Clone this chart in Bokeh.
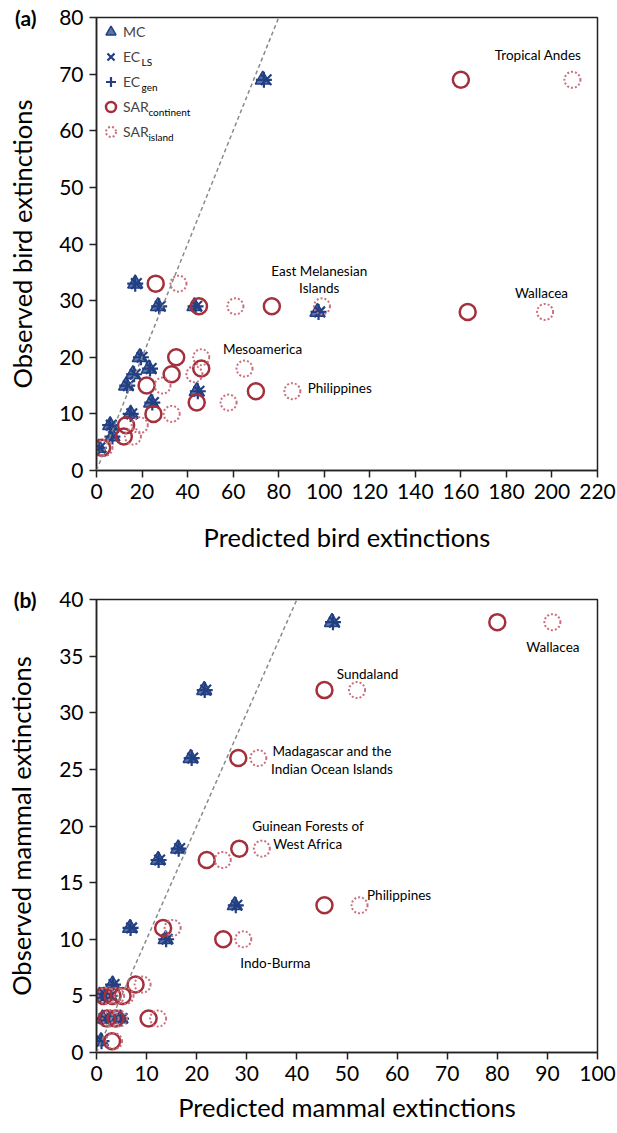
from bokeh.plotting import figure
from bokeh.layouts import column
from bokeh.models import (Range1d, FixedTicker, Slope, Label, Legend, LegendItem,
                          ColumnDataSource, LinearAxis)
from bokeh.embed import file_html
from bokeh.resources import INLINE

FONT = "Lato"

# ---------------- Panel (a): birds ----------------
bird_obs      = [69, 33, 29, 29, 28, 20, 18, 17, 15, 14, 12, 10, 8, 6, 4]
bird_mc       = [73, 17, 27, 43, 97, 19, 23, 16, 13, 44, 24, 15, 6, 7, 1]
bird_ec_ls    = [74.5, 17.5, 28, 44, 98, 20, 24, 17, 14, 45, 25, 15.5, 6.5, 7.5, 1.5]
bird_ec_gen   = [73.5, 17, 27.5, 43.5, 97.5, 19.5, 23.5, 16.5, 13.5, 44.5, 24.5, 15, 6, 7, 1]
bird_sar_cont = [160, 26, 45, 77, 163, 35, 46, 33, 22, 70, 44, 25, 13, 12, 2.5]
bird_sar_isl  = [209, 36, 61, 99, 197, 46, 65, 43, 29, 86, 58, 33, 19, 16, 3.5]

bird_x_ticks = [0, 20, 40, 60, 80, 100, 120, 140, 160, 180, 200, 220]
bird_y_ticks = [0, 10, 20, 30, 40, 50, 60, 70, 80]

bird_notes = [
    ("Tropical Andes", 193.9, 73.3),
    ("East Melanesian", 97.8, 35.3),
    ("Islands", 97.8, 32.3),
    ("Wallacea", 195.4, 31.3),
    ("Mesoamerica", 72.9, 21.4),
    ("Philippines", 106.8, 14.5),
]

# ---------------- Panel (b): mammals ----------------
mam_obs      = [38, 32, 26, 18, 17, 13, 11, 10, 6, 5, 5, 5, 3, 3, 3, 1]
mam_mc       = [47, 21.5, 18.8, 16.3, 12.3, 27.6, 6.7, 13.8, 3.2, 0.6, 1.5, 2.6, 1.2, 2.8, 4.8, 0.9]
mam_ec_ls    = [47.5, 21.8, 19.2, 16.6, 12.6, 28.0, 7.0, 14.1, 3.5, 0.9, 1.8, 2.9, 1.5, 3.1, 5.1, 1.1]
mam_ec_gen   = [47.2, 21.6, 19.0, 16.4, 12.4, 27.8, 6.8, 13.9, 3.3, 0.7, 1.6, 2.7, 1.3, 2.9, 4.9, 1.0]
mam_sar_cont = [80, 45.5, 28.3, 28.5, 22, 45.5, 13.3, 25.3, 7.8, 1.4, 3.2, 5.2, 2.1, 3.8, 10.4, 3.1]
mam_sar_isl  = [91, 52, 32.3, 33, 25.2, 52.5, 15.2, 29.3, 9.2, 2.0, 3.9, 5.8, 2.8, 4.5, 12.3, 3.5]

mam_x_ticks = [0, 10, 20, 30, 40, 50, 60, 70, 80, 90, 100]
mam_y_ticks = [0, 5, 10, 15, 20, 25, 30, 35, 40]

mam_notes = [
    ("Wallacea", 91.1, 35.8),
    ("Sundaland", 54.1, 33.4),
    ("Madagascar and the", 47.0, 26.6),
    ("Indian Ocean Islands", 47.0, 25.0),
    ("Guinean Forests of", 42.2, 20.0),
    ("West Africa", 42.2, 18.4),
    ("Philippines", 60.4, 13.9),
    ("Indo-Burma", 35.7, 7.9),
]

BLUE = "#213f82"
BLUE_FILL = "#3d5c9e"
RED = "#a3303b"
PINK = "#c8707c"


def make_panel(tag, obs, mc, ecls, ecgen, sarc, sari, xmax, ymax, xticks, yticks,
               xlabel, ylabel, notes, height, top, bottom, title_gap, with_legend):
    p = figure(width=617, height=height, output_backend="svg", toolbar_location=None,
               x_range=Range1d(0, xmax), y_range=Range1d(0, ymax),
               min_border_left=96, min_border_right=20,
               min_border_top=top, min_border_bottom=bottom)
    p.background_fill_color = "white"
    p.border_fill_color = "white"
    p.outline_line_color = "#222222"
    p.outline_line_width = 1.5
    p.xgrid.grid_line_color = None
    p.ygrid.grid_line_color = None

    for ax, ticks in ((p.xaxis[0], xticks), (p.yaxis[0], yticks)):
        ax.ticker = FixedTicker(ticks=ticks)
        ax.minor_tick_line_color = None
        ax.major_tick_in = 0
        ax.major_tick_out = 7
        ax.major_tick_line_width = 1.5
        ax.major_tick_line_color = "#222222"
        ax.axis_line_color = "#222222"
        ax.axis_line_width = 1.5
        ax.major_label_text_font = FONT
        ax.major_label_text_font_size = "21px"
        ax.major_label_text_color = "black"
        ax.axis_label_text_font = FONT
        ax.axis_label_text_font_size = "25.5px"
        ax.axis_label_text_font_style = "normal"
        ax.axis_label_text_color = "black"
    p.xaxis[0].axis_label = xlabel
    p.xaxis[0].major_label_standoff = 6
    p.xaxis[0].axis_label_standoff = title_gap
    p.yaxis[0].major_label_standoff = 6

    # outer left axis: carries the panel tag "(a)/(b)" level with the top tick,
    # and the y-axis title
    tag_axis = LinearAxis(ticker=FixedTicker(ticks=[ymax]),
                          major_label_overrides={ymax: tag},
                          axis_line_color=None, major_tick_line_color=None,
                          minor_tick_line_color=None, major_tick_out=0, major_tick_in=0,
                          major_label_standoff=20,
                          major_label_text_font=FONT, major_label_text_font_size="21px",
                          major_label_text_font_style="bold", major_label_text_color="black",
                          axis_label=ylabel, axis_label_text_font=FONT,
                          axis_label_text_font_size="25.5px",
                          axis_label_text_font_style="normal",
                          axis_label_text_color="black", axis_label_standoff=-25)
    p.add_layout(tag_axis, "left")

    # 1:1 line
    p.add_layout(Slope(gradient=1, y_intercept=0, line_color="#8a8a8a",
                       line_dash="4 3", line_width=1.5))

    src = ColumnDataSource(dict(obs=obs, mc=mc, ecls=ecls, ecgen=ecgen, sarc=sarc, sari=sari))
    r_mc = p.scatter("mc", "obs", source=src, marker="triangle", size=15,
                     fill_color=BLUE_FILL, fill_alpha=0.85, line_color=BLUE, line_width=1.5)
    r_ls = p.scatter("ecls", "obs", source=src, marker="x", size=15,
                     line_color=BLUE, line_width=2.2)
    r_gen = p.scatter("ecgen", "obs", source=src, marker="cross", size=16,
                      line_color=BLUE, line_width=2.2)
    r_c = p.scatter("sarc", "obs", source=src, marker="circle", size=16,
                    fill_color=None, line_color=RED, line_width=2.5)
    r_i = p.scatter("sari", "obs", source=src, marker="circle", size=16,
                    fill_color=None, line_color=PINK, line_width=2, line_dash="2 2")

    for txt, x, y in notes:
        p.add_layout(Label(x=x, y=y, text=txt, text_font=FONT, text_font_size="13.5px",
                           text_align="center", text_baseline="middle", text_color="black"))

    if with_legend:
        items = [LegendItem(label="MC", renderers=[r_mc]),
                 LegendItem(label="EC", renderers=[r_ls]),
                 LegendItem(label="EC", renderers=[r_gen]),
                 LegendItem(label="SAR", renderers=[r_c]),
                 LegendItem(label="SAR", renderers=[r_i])]
        leg = Legend(items=items, location="top_left", margin=2, padding=2,
                     border_line_color=None, background_fill_alpha=0,
                     label_text_font=FONT, label_text_font_size="14px",
                     glyph_width=25, glyph_height=25, label_height=25,
                     label_standoff=0, spacing=0)
        p.add_layout(leg)
        subs = [("LS", 19.8, 72.1), ("gen", 19.8, 67.7), ("continent", 22.8, 63.3),
                ("island", 22.8, 58.9)]
        for txt, x, y in subs:
            p.add_layout(Label(x=x, y=y, text=txt, text_font=FONT, text_font_size="10px",
                               text_align="left", text_baseline="middle", text_color="black"))
    return p


pa = make_panel("(a)", bird_obs, bird_mc, bird_ec_ls, bird_ec_gen, bird_sar_cont, bird_sar_isl,
                220, 80, bird_x_ticks, bird_y_ticks,
                "Predicted bird extinctions", "Observed bird extinctions",
                bird_notes, 566, 17, 96, 20, True)
pb = make_panel("(b)", mam_obs, mam_mc, mam_ec_ls, mam_ec_gen, mam_sar_cont, mam_sar_isl,
                100, 40, mam_x_ticks, mam_y_ticks,
                "Predicted mammal extinctions", "Observed mammal extinctions",
                mam_notes, 567, 33, 81, 8, False)

layout = column(pa, pb, spacing=0)
open("out.html", "w").write(file_html(layout, INLINE))
